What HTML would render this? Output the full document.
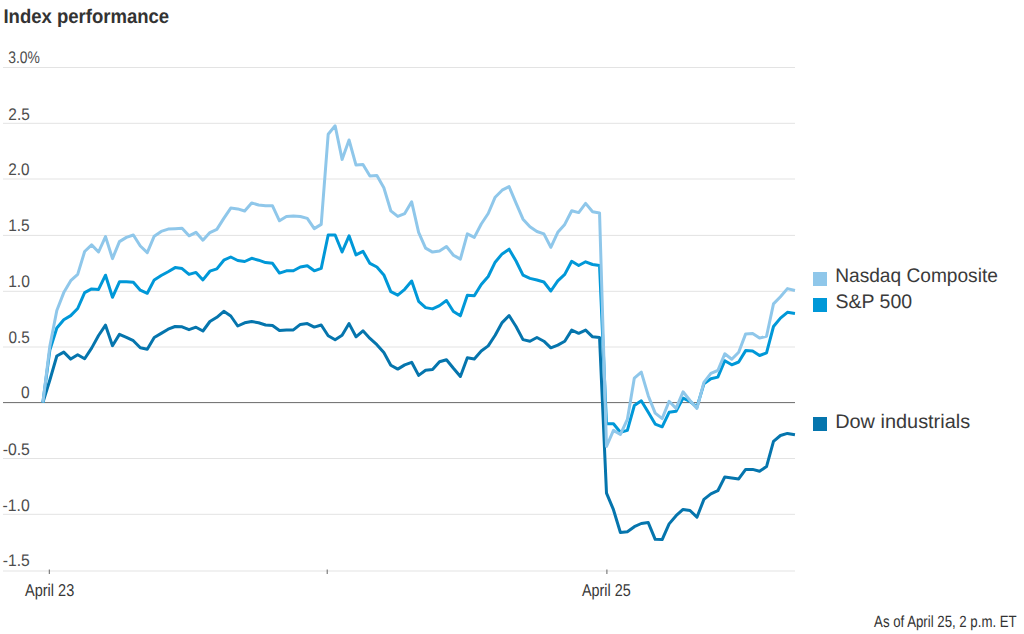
<!DOCTYPE html>
<html><head><meta charset="utf-8"><title>Index performance</title>
<style>
html,body{margin:0;padding:0;background:#fff;width:1024px;height:634px;overflow:hidden;}
svg{display:block;font-family:"Liberation Sans",sans-serif;text-rendering:geometricPrecision;}
</style></head><body>
<svg width="1024" height="634" viewBox="0 0 1024 634">
<rect x="3" y="67.00" width="792" height="1" fill="#e3e3e3"/>
<rect x="3" y="122.80" width="792" height="1" fill="#e3e3e3"/>
<rect x="3" y="178.50" width="792" height="1" fill="#e3e3e3"/>
<rect x="3" y="234.90" width="792" height="1" fill="#e3e3e3"/>
<rect x="3" y="290.80" width="792" height="1" fill="#e3e3e3"/>
<rect x="3" y="346.50" width="792" height="1" fill="#e3e3e3"/>
<rect x="3" y="458.00" width="792" height="1" fill="#e3e3e3"/>
<rect x="3" y="513.80" width="792" height="1" fill="#e3e3e3"/>
<rect x="3" y="570.50" width="792" height="1" fill="#e3e3e3"/>
<rect x="48.80" y="569.5" width="1" height="4.5" fill="#666666"/>
<rect x="326.70" y="569.5" width="1" height="4.5" fill="#666666"/>
<rect x="606.40" y="569.5" width="1" height="4.5" fill="#666666"/>
<rect x="3" y="402.10" width="792" height="1" fill="#6a6a6a"/>
<path d="M42.90,402.50 L49.86,380.00 L56.82,356.00 L63.77,352.10 L70.73,359.10 L77.69,354.70 L84.65,358.70 L91.61,348.10 L98.56,335.50 L105.52,325.20 L112.48,345.70 L119.44,334.40 L126.40,337.40 L133.35,340.70 L140.31,347.80 L147.27,349.20 L154.23,337.50 L161.19,333.40 L168.14,329.20 L175.10,326.50 L182.06,326.80 L189.02,329.70 L195.98,327.20 L202.93,331.00 L209.89,321.50 L216.85,317.30 L223.81,311.30 L230.77,316.00 L237.72,326.00 L244.68,322.80 L251.64,321.50 L258.60,322.80 L265.56,325.00 L272.51,325.50 L279.47,330.50 L286.43,329.90 L293.39,329.90 L300.35,324.40 L307.30,323.60 L314.26,327.10 L321.22,325.00 L328.18,335.70 L335.14,339.70 L342.09,335.20 L349.05,323.60 L356.01,336.80 L362.97,330.80 L369.93,338.40 L376.88,344.70 L383.84,352.60 L390.80,365.20 L397.76,369.10 L404.72,364.90 L411.67,362.30 L418.63,375.40 L425.59,370.20 L432.55,369.60 L439.51,361.70 L446.46,359.70 L453.42,368.30 L460.38,376.50 L467.34,357.80 L474.30,358.90 L481.25,351.00 L488.21,345.90 L495.17,335.20 L502.13,322.60 L509.09,315.50 L516.04,326.50 L523.00,339.60 L529.96,341.20 L536.92,337.50 L543.88,341.20 L550.83,347.80 L557.79,345.10 L564.75,341.20 L571.71,330.10 L578.67,333.30 L585.62,330.10 L592.58,336.80 L599.54,337.50 L606.50,493.10 L613.46,509.70 L620.41,532.50 L627.37,531.80 L634.33,526.70 L641.29,523.50 L648.25,522.60 L655.20,539.30 L662.16,539.60 L669.12,523.90 L676.08,515.70 L683.04,509.40 L689.99,510.50 L696.95,517.20 L703.91,499.40 L710.87,493.90 L717.83,490.70 L724.78,477.00 L731.74,478.00 L738.70,478.90 L745.66,469.40 L752.62,469.40 L759.57,471.30 L766.53,466.60 L773.49,441.30 L780.45,435.50 L787.41,433.40 L794.96,434.70" fill="none" stroke="#0575ad" stroke-width="3" stroke-linejoin="round" stroke-linecap="butt"/>
<path d="M42.90,402.50 L49.86,350.00 L56.82,328.00 L63.77,319.70 L70.73,315.60 L77.69,308.50 L84.65,292.60 L91.61,288.90 L98.56,289.40 L105.52,275.20 L112.48,297.30 L119.44,281.80 L126.40,281.80 L133.35,282.30 L140.31,290.20 L147.27,293.30 L154.23,279.90 L161.19,275.50 L168.14,271.70 L175.10,267.60 L182.06,268.60 L189.02,274.40 L195.98,272.40 L202.93,279.90 L209.89,271.20 L216.85,268.90 L223.81,260.20 L230.77,257.00 L237.72,260.50 L244.68,261.50 L251.64,258.30 L258.60,260.20 L265.56,262.60 L272.51,263.30 L279.47,273.10 L286.43,270.80 L293.39,270.80 L300.35,267.00 L307.30,265.70 L314.26,270.80 L321.22,268.40 L328.18,235.00 L335.14,235.00 L342.09,252.00 L349.05,235.80 L356.01,254.90 L362.97,251.30 L369.93,263.40 L376.88,267.00 L383.84,274.90 L390.80,291.60 L397.76,295.20 L404.72,289.30 L411.67,281.00 L418.63,301.30 L425.59,307.60 L432.55,308.90 L439.51,305.60 L446.46,300.50 L453.42,311.50 L460.38,315.80 L467.34,295.20 L474.30,295.80 L481.25,284.50 L488.21,276.50 L495.17,262.20 L502.13,253.90 L509.09,249.20 L516.04,261.00 L523.00,275.20 L529.96,278.40 L536.92,280.00 L543.88,282.00 L550.83,291.00 L557.79,280.80 L564.75,274.40 L571.71,261.30 L578.67,265.50 L585.62,261.80 L592.58,264.50 L599.54,265.60 L606.50,423.80 L613.46,423.80 L620.41,432.30 L627.37,430.40 L634.33,405.50 L641.29,400.80 L648.25,412.30 L655.20,424.10 L662.16,426.80 L669.12,412.30 L676.08,411.20 L683.04,398.10 L689.99,401.30 L696.95,407.10 L703.91,383.90 L710.87,378.70 L717.83,377.10 L724.78,360.70 L731.74,364.80 L738.70,362.00 L745.66,350.60 L752.62,351.00 L759.57,355.50 L766.53,352.80 L773.49,326.50 L780.45,318.10 L787.41,312.30 L794.96,313.40" fill="none" stroke="#0098d8" stroke-width="3" stroke-linejoin="round" stroke-linecap="butt"/>
<path d="M42.90,402.50 L49.86,346.00 L56.82,310.50 L63.77,292.60 L70.73,280.70 L77.69,274.40 L84.65,251.50 L91.61,244.90 L98.56,252.00 L105.52,236.60 L112.48,258.60 L119.44,241.60 L126.40,237.40 L133.35,235.00 L140.31,246.00 L147.27,252.60 L154.23,236.20 L161.19,231.40 L168.14,229.10 L175.10,228.70 L182.06,228.20 L189.02,235.80 L195.98,232.30 L202.93,240.20 L209.89,232.60 L216.85,229.40 L223.81,218.40 L230.77,208.10 L237.72,208.90 L244.68,211.00 L251.64,202.90 L258.60,205.00 L265.56,205.80 L272.51,205.80 L279.47,220.80 L286.43,216.50 L293.39,216.00 L300.35,216.50 L307.30,218.40 L314.26,228.60 L321.22,224.40 L328.18,134.30 L335.14,125.80 L342.09,159.40 L349.05,140.00 L356.01,165.10 L362.97,164.40 L369.93,176.00 L376.88,175.50 L383.84,187.80 L390.80,210.80 L397.76,216.40 L404.72,213.60 L411.67,201.80 L418.63,232.30 L425.59,248.10 L432.55,252.10 L439.51,250.90 L446.46,246.50 L453.42,255.20 L460.38,259.10 L467.34,233.90 L474.30,237.40 L481.25,224.00 L488.21,213.50 L495.17,197.20 L502.13,190.20 L509.09,186.60 L516.04,203.10 L523.00,219.20 L529.96,226.80 L536.92,231.50 L543.88,233.90 L550.83,247.30 L557.79,232.30 L564.75,224.40 L571.71,210.70 L578.67,212.60 L585.62,203.40 L592.58,211.80 L599.54,212.90 L606.50,446.50 L613.46,430.40 L620.41,434.40 L627.37,419.40 L634.33,378.10 L641.29,372.10 L648.25,395.70 L655.20,413.10 L662.16,418.60 L669.12,401.30 L676.08,408.40 L683.04,391.80 L689.99,400.50 L696.95,408.40 L703.91,382.30 L710.87,373.30 L717.83,370.50 L724.78,353.80 L731.74,359.30 L738.70,352.20 L745.66,333.90 L752.62,333.40 L759.57,338.10 L766.53,336.20 L773.49,303.90 L780.45,296.80 L787.41,288.60 L794.96,290.50" fill="none" stroke="#8fc7ea" stroke-width="3" stroke-linejoin="round" stroke-linecap="butt"/>
<rect x="813" y="272" width="14" height="14" fill="#8fc7ea"/>
<rect x="813" y="298" width="14" height="14" fill="#0098d8"/>
<rect x="813" y="417" width="14" height="14" fill="#0575ad"/>
<text x="3.46" y="23" font-size="19.8" fill="#333333" font-weight="bold" text-anchor="start" textLength="165.71" lengthAdjust="spacingAndGlyphs">Index performance</text>
<text x="8.2" y="63" font-size="16.9" fill="#4d4d4d" font-weight="normal" text-anchor="start" textLength="31.65" lengthAdjust="spacingAndGlyphs">3.0%</text>
<text x="8.33" y="120" font-size="16.9" fill="#4d4d4d" font-weight="normal" text-anchor="start" textLength="21.43" lengthAdjust="spacingAndGlyphs">2.5</text>
<text x="8.35" y="175" font-size="16.9" fill="#4d4d4d" font-weight="normal" text-anchor="start" textLength="21.29" lengthAdjust="spacingAndGlyphs">2.0</text>
<text x="8.18" y="231" font-size="16.9" fill="#4d4d4d" font-weight="normal" text-anchor="start" textLength="21.52" lengthAdjust="spacingAndGlyphs">1.5</text>
<text x="8.14" y="287" font-size="16.9" fill="#4d4d4d" font-weight="normal" text-anchor="start" textLength="21.68" lengthAdjust="spacingAndGlyphs">1.0</text>
<text x="8.44" y="343" font-size="16.9" fill="#4d4d4d" font-weight="normal" text-anchor="start" textLength="21.29" lengthAdjust="spacingAndGlyphs">0.5</text>
<text x="21.07" y="398" font-size="16.9" fill="#4d4d4d" font-weight="normal" text-anchor="start" textLength="8.65" lengthAdjust="spacingAndGlyphs">0</text>
<text x="2.71" y="455" font-size="16.9" fill="#4d4d4d" font-weight="normal" text-anchor="start" textLength="27.18" lengthAdjust="spacingAndGlyphs">-0.5</text>
<text x="2.58" y="511" font-size="16.9" fill="#4d4d4d" font-weight="normal" text-anchor="start" textLength="27.2" lengthAdjust="spacingAndGlyphs">-1.0</text>
<text x="2.71" y="566" font-size="16.9" fill="#4d4d4d" font-weight="normal" text-anchor="start" textLength="26.99" lengthAdjust="spacingAndGlyphs">-1.5</text>
<text x="49.6" y="596" font-size="17.1" fill="#383838" font-weight="normal" text-anchor="middle" textLength="49.26" lengthAdjust="spacingAndGlyphs">April 23</text>
<text x="606.33" y="596" font-size="17.1" fill="#383838" font-weight="normal" text-anchor="middle" textLength="48.79" lengthAdjust="spacingAndGlyphs">April 25</text>
<text x="835.23" y="282" font-size="19.7" fill="#3a3a3a" font-weight="normal" text-anchor="start" textLength="162.66" lengthAdjust="spacingAndGlyphs">Nasdaq Composite</text>
<text x="835.49" y="308" font-size="19.7" fill="#3a3a3a" font-weight="normal" text-anchor="start" textLength="76.57" lengthAdjust="spacingAndGlyphs">S&amp;P 500</text>
<text x="835.2" y="428" font-size="19.7" fill="#3a3a3a" font-weight="normal" text-anchor="start" textLength="134.93" lengthAdjust="spacingAndGlyphs">Dow industrials</text>
<text x="874.09" y="627" font-size="16.2" fill="#333333" font-weight="normal" text-anchor="start" textLength="142.59" lengthAdjust="spacingAndGlyphs">As of April 25, 2 p.m. ET</text>
</svg>
</body></html>
